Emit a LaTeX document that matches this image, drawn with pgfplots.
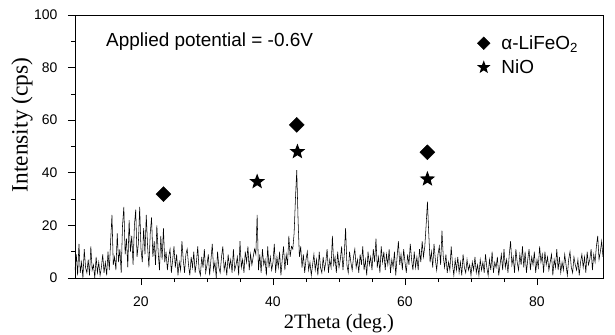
\documentclass[border=0pt]{standalone}
\usepackage{fontspec}
\setmainfont{Liberation Sans}
\newfontfamily\seriffont{Liberation Serif}
\usepackage{pgfplots}
\pgfplotsset{compat=1.18}
\pgfdeclareplotmark{fstar}{%
 \pgfpathmoveto{\pgfpointpolar{90}{\pgfplotmarksize}}%
 \pgfpathlineto{\pgfpointpolar{126}{0.42*\pgfplotmarksize}}%
 \pgfpathlineto{\pgfpointpolar{162}{\pgfplotmarksize}}%
 \pgfpathlineto{\pgfpointpolar{198}{0.42*\pgfplotmarksize}}%
 \pgfpathlineto{\pgfpointpolar{234}{\pgfplotmarksize}}%
 \pgfpathlineto{\pgfpointpolar{270}{0.42*\pgfplotmarksize}}%
 \pgfpathlineto{\pgfpointpolar{306}{\pgfplotmarksize}}%
 \pgfpathlineto{\pgfpointpolar{342}{0.42*\pgfplotmarksize}}%
 \pgfpathlineto{\pgfpointpolar{18}{\pgfplotmarksize}}%
 \pgfpathlineto{\pgfpointpolar{54}{0.42*\pgfplotmarksize}}%
 \pgfpathclose\pgfusepathqfill}
\pgfplotsset{mylegimg/.style={legend image code/.code={\draw[##1,every mark/.append style={scale=0.85}] plot coordinates {(0bp,0bp)};}}}
\begin{document}
\begin{tikzpicture}
\path[use as bounding box] (-75bp,-57bp) rectangle (540bp,278bp);
\begin{axis}[
 scale only axis, width=528bp, height=263bp,
 xmin=10, xmax=90, ymin=0, ymax=100,
 xtick={20,40,60,80}, ytick={0,20,...,100},
 minor x tick num=3, minor y tick num=1,
 tick align=outside, tick pos=left,
 major tick length=7bp, minor tick length=4bp,
 axis line style={line width=0.6pt, black},
 every tick/.style={line width=0.6pt, black},
 ticklabel style={font=\fontsize{14}{16}\selectfont},
 /pgf/number format/assume math mode=true,
 xticklabel style={yshift=-8bp},
 yticklabel style={xshift=-7bp},
 xlabel={\seriffont 2Theta (deg.)},
 ylabel={\seriffont Intensity (cps)},
 xlabel style={font=\fontsize{20.5}{24}\selectfont, at={(rel axis cs:0.5,-0.175)}, anchor=center},
 ylabel style={font=\fontsize{23.5}{27}\selectfont, at={(rel axis cs:-0.1004,0.582)}, anchor=center},
 legend style={draw=none, fill=none, at={(axis cs:70.9,93)}, anchor=north west, font=\fontsize{19}{22}\selectfont, row sep=5bp, inner sep=0pt},
 legend cell align=left,
]
\addplot[black, line width=0.55pt, mark=none, forget plot] coordinates {
(10,3)(10.2,9)(10.4,1)(10.6,13)(10.8,2)(11,6)(11.2,0)(11.4,11)(11.6,4)(11.8,2)
(12,7)(12.2,1)(12.4,12)(12.6,3)(12.8,5)(13,0)(13.2,8)(13.4,2)(13.6,6)(13.8,1)
(14,4)(14.2,9)(14.4,2)(14.6,6)(14.8,1)(15,10)(15.2,3)(15.4,14)(15.6,24)(15.8,5)
(16,8)(16.2,3)(16.4,17)(16.6,6)(16.8,11)(17,2)(17.2,20)(17.4,27)(17.6,9)(17.8,15)
(18,4)(18.2,22)(18.4,10)(18.6,16)(18.8,5)(19,20)(19.2,26)(19.4,8)(19.6,13)(19.8,27)
(20,11)(20.2,6)(20.4,19)(20.6,9)(20.8,24)(21,12)(21.2,4)(21.4,17)(21.6,23)(21.8,8)
(22,14)(22.2,5)(22.4,20)(22.6,10)(22.8,3)(23,16)(23.2,7)(23.4,19)(23.6,6)(23.8,10)
(24,3)(24.2,8)(24.4,11)(24.6,2)(24.8,7)(25,12)(25.2,4)(25.4,9)(25.6,1)(25.8,6)
(26,3)(26.2,14)(26.4,7)(26.6,2)(26.8,9)(27,11)(27.2,5)(27.4,1)(27.6,8)(27.8,4)
(28,10)(28.2,2)(28.4,6)(28.6,12)(28.8,3)(29,1)(29.2,8)(29.4,4)(29.6,11)(29.8,2)
(30,5)(30.2,9)(30.4,1)(30.6,7)(30.8,13)(31,3)(31.2,6)(31.4,0)(31.6,10)(31.8,4)
(32,2)(32.2,8)(32.4,12)(32.6,3)(32.8,6)(33,1)(33.2,9)(33.4,4)(33.6,7)(33.8,2)
(34,11)(34.2,3)(34.4,5)(34.6,8)(34.8,1)(35,14)(35.2,4)(35.4,7)(35.6,2)(35.8,10)
(36,6)(36.2,12)(36.4,3)(36.6,9)(36.8,5)(37,8)(37.2,11)(37.4,9)(37.6,24)(37.8,3)
(38,9)(38.2,2)(38.4,11)(38.6,5)(38.8,7)(39,1)(39.2,12)(39.4,4)(39.6,8)(39.8,3)
(40,6)(40.2,13)(40.4,2)(40.6,8)(40.8,4)(41,10)(41.2,1)(41.4,7)(41.6,12)(41.8,3)
(42,9)(42.2,5)(42.4,16)(42.6,8)(42.8,12)(43,11)(43.2,17)(43.4,30)(43.6,41)(43.8,22)
(44,8)(44.2,12)(44.4,4)(44.6,9)(44.8,2)(45,7)(45.2,10)(45.4,3)(45.6,6)(45.8,1)
(46,5)(46.2,9)(46.4,3)(46.6,7)(46.8,1)(47,10)(47.2,4)(47.4,2)(47.6,8)(47.8,3)
(48,6)(48.2,11)(48.4,2)(48.6,7)(48.8,4)(49,16)(49.2,5)(49.4,8)(49.6,2)(49.8,10)
(50,4)(50.2,7)(50.4,12)(50.6,3)(50.8,9)(51,19)(51.2,5)(51.4,2)(51.6,10)(51.8,6)
(52,3)(52.2,8)(52.4,11)(52.6,4)(52.8,7)(53,2)(53.2,9)(53.4,5)(53.6,12)(53.8,3)
(54,7)(54.2,1)(54.4,10)(54.6,5)(54.8,8)(55,3)(55.2,11)(55.4,6)(55.6,15)(55.8,4)
(56,8)(56.2,2)(56.4,12)(56.6,6)(56.8,10)(57,3)(57.2,9)(57.4,5)(57.6,11)(57.8,2)
(58,7)(58.2,4)(58.4,10)(58.6,1)(58.8,8)(59,14)(59.2,5)(59.4,9)(59.6,3)(59.8,11)
(60,6)(60.2,2)(60.4,9)(60.6,5)(60.8,13)(61,7)(61.2,3)(61.4,10)(61.6,4)(61.8,8)
(62,3)(62.2,11)(62.4,6)(62.6,14)(62.8,8)(63,12)(63.2,20)(63.4,29)(63.6,17)(63.8,6)
(64,10)(64.2,4)(64.4,13)(64.6,7)(64.8,3)(65,9)(65.2,12)(65.4,5)(65.6,18)(65.8,8)
(66,4)(66.2,9)(66.4,2)(66.6,6)(66.8,3)(67,12)(67.2,5)(67.4,1)(67.6,7)(67.8,3)
(68,8)(68.2,2)(68.4,6)(68.6,1)(68.8,9)(69,4)(69.2,2)(69.4,7)(69.6,3)(69.8,5)
(70,1)(70.2,6)(70.4,3)(70.6,8)(70.8,2)(71,5)(71.2,1)(71.4,7)(71.6,3)(71.8,6)
(72,2)(72.2,9)(72.4,4)(72.6,1)(72.8,7)(73,3)(73.2,10)(73.4,2)(73.6,6)(73.8,4)
(74,8)(74.2,1)(74.4,5)(74.6,9)(74.8,3)(75,11)(75.2,4)(75.4,7)(75.6,2)(75.8,9)
(76,14)(76.2,5)(76.4,8)(76.6,2)(76.8,11)(77,6)(77.2,3)(77.4,9)(77.6,5)(77.8,12)
(78,4)(78.2,10)(78.4,2)(78.6,7)(78.8,11)(79,3)(79.2,8)(79.4,5)(79.6,10)(79.8,2)
(80,7)(80.2,4)(80.4,12)(80.6,6)(80.8,9)(81,2)(81.2,10)(81.4,5)(81.6,8)(81.8,3)
(82,6)(82.2,9)(82.4,1)(82.6,7)(82.8,4)(83,11)(83.2,3)(83.4,8)(83.6,2)(83.8,6)
(84,3)(84.2,9)(84.4,5)(84.6,1)(84.8,7)(85,10)(85.2,4)(85.4,2)(85.6,8)(85.8,5)
(86,3)(86.2,7)(86.4,1)(86.6,6)(86.8,9)(87,4)(87.2,8)(87.4,2)(87.6,10)(87.8,5)
(88,7)(88.2,11)(88.4,3)(88.6,9)(88.8,6)(89,12)(89.2,16)(89.4,7)(89.6,10)(89.8,14)
(90,8)
};
\addplot[only marks, mark=square*, mark options={rotate=45, fill=black, draw=black}, mark size=5.3bp, mylegimg] coordinates {(23.4,31.9)(43.6,58.2)(63.4,47.8)};
\addlegendentry{\hspace{9bp}α-LiFeO\textsubscript{2}}
\addplot[only marks, mark=fstar, mark options={fill=black, draw=black}, mark size=8.2bp, mylegimg] coordinates {(37.6,36.6)(43.7,48)(63.4,37.6)};
\addlegendentry{\hspace{9bp}NiO}
\node[anchor=west, font=\fontsize{19}{22}\selectfont, inner sep=0pt] at (axis cs:14.7,89.7) {Applied potential = -0.6V};
\end{axis}
\end{tikzpicture}
\end{document}
